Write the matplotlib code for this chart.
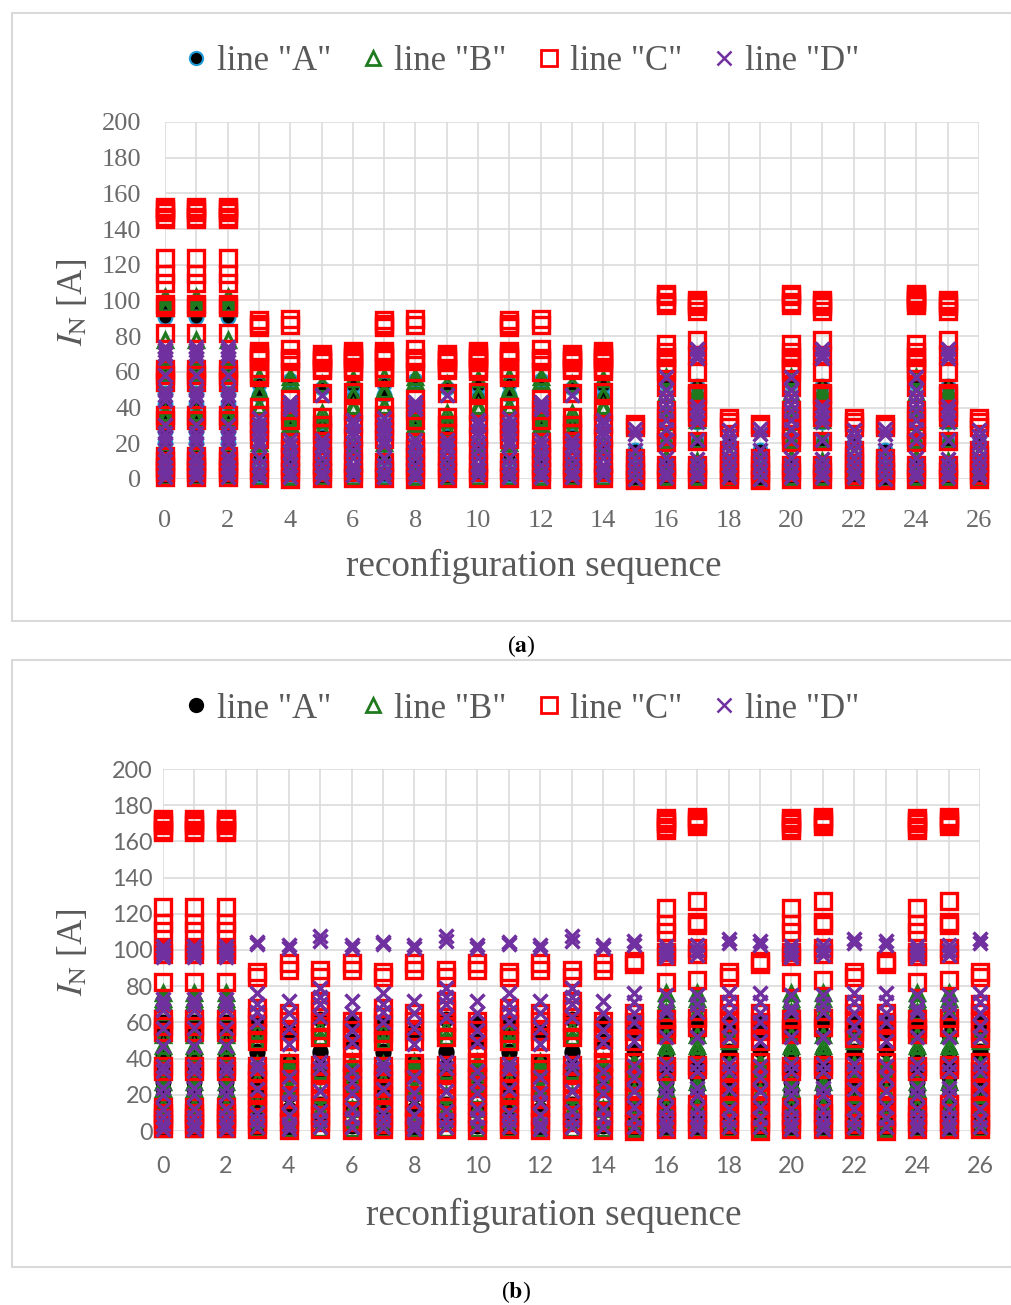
import matplotlib
matplotlib.use("Agg")
import matplotlib.pyplot as plt
from matplotlib.patches import Rectangle

W, H = 1011, 1305

columns = list(range(27))
x_ticks = list(range(0, 27, 2))
y_ticks = list(range(0, 201, 20))
series_names = ['line "A"', 'line "B"', 'line "C"', 'line "D"']

# the switching states repeat along the sequence, so each column points at one group of readings
a_groups = [0, 0, 0, 1, 2, 3, 4, 1, 2, 3, 4, 1, 2, 3, 4, 8, 5, 6, 7, 8, 5, 6, 7, 8, 5, 6, 7]
b_groups = [0, 0, 0, 1, 2, 3, 4, 1, 2, 3, 4, 1, 2, 3, 4, 8, 5, 6, 7, 8, 5, 6, 7, 8, 5, 6, 7]

a_A = [
    [97, 91, 63, 58, 48, 42, 36, 27, 20, 13, 6, 1],
    [53, 47, 30, 12, 2],
    [55.5, 33, 12, 2],
    [51, 31, 24, 8, 1],
    [52, 46, 15, 2],
    [54, 20, 8, 1],
    [52, 46, 32, 21, 8, 1],
    [20, 8, 1],
    [16, 6, 0],
]
a_B = [
    [102, 98, 96, 78, 64, 60, 55, 37, 34, 15, 8, 1],
    [57, 50, 49, 41, 40, 30, 20, 10, 1],
    [57, 55, 34, 33, 31, 20, 10, 1],
    [53, 37, 33, 28, 13, 1],
    [56, 47, 41, 39, 20, 10, 1],
    [57, 48, 38, 32, 22, 12, 1],
    [50, 48, 45, 33, 22, 10, 1],
    [14, 5, 1],
    [12, 4, 0],
]
a_C = [
    [152.5, 151, 149.3, 147, 145.5, 123.7, 115, 110, 98, 96.5, 82, 61.7, 58, 54.5, 36, 33, 13, 10, 7, 4, 1],
    [88.8, 87, 85, 71.5, 70, 68.5, 67, 62, 59, 57.2, 40.5, 36, 31.5, 27, 22.5, 9.5, 5, 0.8],
    [89.8, 86.5, 73, 68, 66, 60, 44.6, 38.7, 33, 21, 17, 12.5, 8, 4, 0],
    [70.1, 68.5, 66.5, 65.5, 62, 61, 48.3, 35, 30, 26, 19, 13, 8, 4, 0.6],
    [71.5, 70, 68.5, 67, 65.5, 62, 60.5, 48.8, 38, 31, 23.7, 16, 8.8, 4, 0.8],
    [103.5, 102.5, 99, 97.4, 75.5, 71, 68.5, 65, 62, 60.5, 51.4, 38.7, 34, 28, 24, 20.6, 8, 4, 0],
    [100.4, 98.5, 97, 94.2, 78, 69.7, 59.8, 48.4, 47, 38, 35, 21.3, 7.7, 4, 0.2],
    [34, 32, 29, 16.3, 13, 9, 5, 2, 0],
    [31, 29, 12, 8, 4, 0, -0.5],
]
a_D = [
    [74, 72, 70, 68, 58, 50, 47, 44, 30, 26, 23, 20, 13, 10, 7, 4, 1],
    [34, 31, 28, 25, 22, 19, 12, 8, 4, 1],
    [43, 41, 39, 22, 19, 15, 12, 8, 4, 1],
    [47, 22, 19, 16, 12, 8, 4, 1],
    [33, 30, 27, 24, 20, 16, 12, 8, 5, 2],
    [57, 50, 46, 42, 38, 33, 28, 22, 12, 8, 4, 1],
    [73, 70, 68, 41, 38, 35, 32, 22, 11, 8, 4, 1],
    [27.5, 24, 20, 16, 12, 8, 4, 1],
    [28, 25, 16, 12, 8, 4, 0],
]
# column 24 has a nearly solid top block in (a)
a_C_extra = {24: [101, 100.5]}

b_A = [
    [60, 55, 42, 37, 33, 27, 23, 15, 7, 1],
    [60, 55, 44, 43, 35, 30, 29, 24, 15, 7, 1],
    [55, 54, 38, 30, 20, 12, 1],
    [62, 44, 43, 36, 30, 15, 5],
    [60, 50, 33, 24, 12, 3],
    [60, 55, 43, 37, 33, 27, 22, 15, 7, 1],
    [60, 53, 43, 36, 30, 24, 15, 7, 1],
    [60, 55, 44, 43, 35, 30, 29, 24, 15, 7, 1],
    [60, 55, 45, 35, 25, 15, 8, 1],
]
b_B = [
    [76, 73, 71, 66, 53, 47, 43, 27, 23, 14, 5, 1],
    [55, 50, 37, 28, 20, 15, 6, 1],
    [38, 36, 33, 25, 22, 14, 5, 1],
    [57, 52, 33, 20, 12, 1],
    [38, 34, 30, 24, 20, 12, 5, 1],
    [76, 73, 71, 66, 53, 47, 43, 27, 23, 14, 5, 1],
    [76, 73, 70, 66, 53, 47, 43, 27, 23, 14, 5, 1],
    [55, 50, 37, 28, 20, 15, 6, 1],
    [38, 34, 28, 22, 14, 6, 1],
]
b_C = [
    [172.5, 170.5, 168.8, 166.5, 165, 124, 115, 110.5, 100, 98, 82.5, 61.7, 58, 54.5, 36, 33.3, 13.4, 10, 7, 4, 1.6],
    [88, 85.3, 67.7, 63, 59, 54, 50, 36, 32, 28, 24, 20, 16, 12, 8, 4, 1],
    [93, 89, 65, 61, 55, 50, 37.7, 34, 29, 24, 18, 13, 9, 5, 0.5],
    [89, 85, 72, 67, 60, 56, 52, 36.4, 32, 27, 22, 17, 13, 9, 5, 1],
    [93, 89, 61, 56, 51, 46, 38, 34, 30, 25, 20, 15, 10, 5, 0.5],
    [172.8, 171.5, 170, 168, 166.3, 123, 114.5, 110, 99, 96.7, 82.5, 61.7, 57, 53.6, 36, 33.3, 13, 9, 5, 1],
    [173.7, 172, 170.2, 168.5, 127, 115.5, 114, 101.3, 98, 83.4, 62.6, 57.3, 36.4, 34, 15, 10, 5, 1],
    [88, 85.3, 70, 65, 60, 55, 51.4, 38, 33, 28, 23, 18, 13, 8, 4, 1],
    [94, 92, 65, 60, 55, 50, 38, 33, 28, 23, 18, 13, 8, 4, 0],
]
b_D = [
    [102, 100, 98, 96, 73, 70, 67, 57, 47, 36, 33, 24, 20, 12, 8, 4, 1],
    [104.5, 103.5, 76, 70, 66, 60, 37, 34, 23, 10, 6, 2],
    [103, 101, 72, 65, 57, 48, 30, 21, 16, 9, 4, 1],
    [108, 105, 79, 74, 70, 63, 38, 35, 22, 11, 6, 2],
    [103, 101, 72, 65, 56, 49, 33, 27, 21, 12, 7, 2],
    [102, 100, 98, 96, 75, 68, 66, 52, 37, 33, 24, 20, 12, 8, 4, 1],
    [103, 100, 97, 75, 70, 66, 52, 37, 33, 24, 20, 12, 8, 4, 1],
    [106, 104, 76, 71, 65, 58, 52, 37, 33, 23, 12, 6, 2],
    [105, 103, 76, 71, 65, 60, 50, 36, 30, 22, 13, 7, 2],
]


def fig_box(left, top, right, bottom):
    return [left / W, 1 - bottom / H, (right - left) / W, (bottom - top) / H]


def draw_panel(fig, box, groups, A, B, C, D, tick_font, tick_pads, a_edge, legend_y, label_x, label_y, c_extra=None):
    ax = fig.add_axes(fig_box(*box))
    ax.set_xlim(0, 26)
    ax.set_ylim(0, 200)
    for col in columns:
        g = groups[col]
        a_line, = ax.plot([col] * len(A[g]), A[g], "o", ms=10, mfc="black", mec=a_edge, mew=1.5,
                          clip_on=False, zorder=3)
        b_line, = ax.plot([col] * len(B[g]), B[g], "^", ms=10.5, mfc="none", mec="#1f7a1f", mew=2.4,
                          clip_on=False, zorder=4)
        c_vals = C[g] + (c_extra or {}).get(col, [])
        c_line, = ax.plot([col] * len(c_vals), c_vals, "s", ms=11.8, mfc="none", mec="#ff0000", mew=2.4,
                          clip_on=False, zorder=5)
        d_line, = ax.plot([col] * len(D[g]), D[g], "x", ms=9.5, mec="#7030a0", mew=2.5,
                          clip_on=False, zorder=6)

    ax.set_xticks(x_ticks)
    ax.set_xticks(columns, minor=True)
    ax.set_yticks(y_ticks)
    ax.grid(True, which="both", color="#dcdcdc", linewidth=1.2)
    ax.set_axisbelow(True)
    ax.tick_params(which="both", length=0)
    ax.tick_params(axis="both", labelsize=tick_font[1], colors="#6a6a6a")
    ax.tick_params(axis="x", pad=tick_pads[0])
    ax.tick_params(axis="y", pad=tick_pads[1])
    for t in ax.get_xticklabels() + ax.get_yticklabels():
        t.set_family(tick_font[0])
    for s in ax.spines.values():
        s.set_visible(False)

    leg = ax.legend([a_line, b_line, c_line, d_line], series_names, loc="center",
                    bbox_to_anchor=(519 / W, 1 - legend_y / H), bbox_transform=fig.transFigure,
                    ncol=4, frameon=False, handletextpad=0.1, columnspacing=0.72, handlelength=1.0,
                    labelcolor="#595959", prop={"family": "Liberation Serif", "size": 25})
    # legend keys are a little smaller than the plotted marks
    for h, ms, mew in zip(leg.legend_handles, (9.5, 9.5, 11, 10), (1.5, 2, 2, 1.8)):
        h.set_markersize(ms)
        h.set_markeredgewidth(mew)

    fig.text(label_x / W, 1 - label_y / H, "reconfiguration sequence", ha="center", va="center",
             family="Liberation Serif", size=26.8, color="#595959")
    fig.text(73 / W, 1 - (box[1] + box[3] + 4) / 2 / H, r"$I_{\mathrm{N}}$ [A]", rotation=90, ha="center", va="center",
             family="Liberation Serif", size=25, color="#595959")
    return ax


plt.rcParams["mathtext.fontset"] = "stix"
fig = plt.figure(figsize=(W / 100, H / 100), dpi=100, facecolor="white")

for top, bottom in [(13, 621), (660, 1267)]:
    fig.add_artist(Rectangle((12 / W, 1 - bottom / H), 1000 / W, (bottom - top) / H, transform=fig.transFigure,
                             fill=False, edgecolor="#d9d9d9", linewidth=1.5))

draw_panel(fig, (165, 122, 979, 479), a_groups, a_A, a_B, a_C, a_D, ("Liberation Serif", 19), (22, 17), "#1e9bd7",
           62, 534, 566, c_extra=a_C_extra)
draw_panel(fig, (163, 769, 980, 1131), b_groups, b_A, b_B, b_C, b_D, ("Lato", 16.8), (18, 7.5), "black",
           709, 554, 1215)

fig.text(521 / W, 1 - 646 / H, r"($\mathbf{a}$)", ha="center", va="center", size=17, family="Liberation Serif")
fig.text(516 / W, 1 - 1292 / H, r"($\mathbf{b}$)", ha="center", va="center", size=17, family="Liberation Serif")

fig.savefig("out.png", dpi=100)
